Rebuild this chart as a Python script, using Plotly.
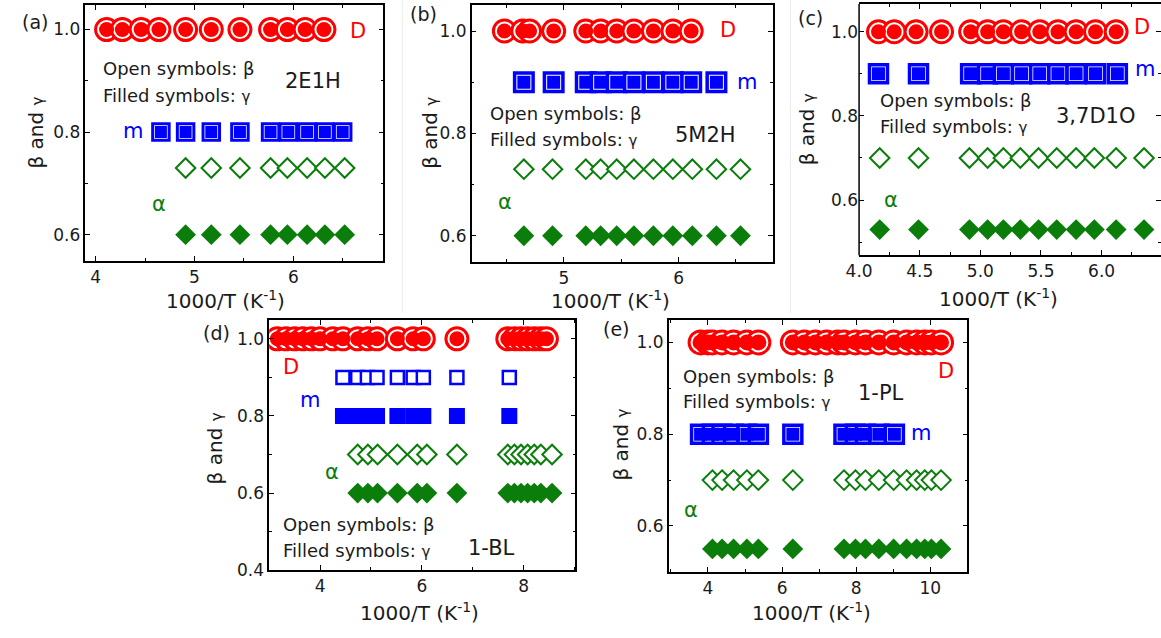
import plotly.graph_objects as go

W, H = 1161, 638

# ---------------- data ----------------
# (a) 2E1H
a_D_x = [4.11, 4.27, 4.46, 4.64, 4.91, 5.17, 5.46, 5.77, 5.94, 6.12, 6.31]
a_D_beta = [1.0, 1.0, 1.0, 1.0, 1.0, 1.0, 1.0, 1.0, 1.0, 1.0, 1.0]
a_D_gamma = [1.0, 1.0, 1.0, 1.0, 1.0, 1.0, 1.0, 1.0, 1.0, 1.0, 1.0]
a_m_x = [4.66, 4.91, 5.17, 5.46, 5.77, 5.95, 6.14, 6.32, 6.50]
a_m_beta = [0.8, 0.8, 0.8, 0.8, 0.8, 0.8, 0.8, 0.8, 0.8]
a_m_gamma = [0.8, 0.8, 0.8, 0.8, 0.8, 0.8, 0.8, 0.8, 0.8]
a_al_x = [4.91, 5.17, 5.46, 5.77, 5.94, 6.14, 6.32, 6.52]
a_al_beta = [0.73, 0.73, 0.73, 0.73, 0.73, 0.73, 0.73, 0.73]
a_al_gamma = [0.6, 0.6, 0.6, 0.6, 0.6, 0.6, 0.6, 0.6]

# (b) 5M2H
b_D_x = [4.48, 4.64, 4.70, 4.91, 5.19, 5.32, 5.46, 5.61, 5.78, 5.95, 6.11]
b_D_beta = [1.0, 1.0, 1.0, 1.0, 1.0, 1.0, 1.0, 1.0, 1.0, 1.0, 1.0]
b_D_gamma = [1.0, 1.0, 1.0, 1.0, 1.0, 1.0, 1.0, 1.0, 1.0, 1.0, 1.0]
b_m_x = [4.65, 4.91, 5.19, 5.32, 5.46, 5.61, 5.78, 5.95, 6.11, 6.33]
b_m_beta = [0.9, 0.9, 0.9, 0.9, 0.9, 0.9, 0.9, 0.9, 0.9, 0.9]
b_m_gamma = [0.9, 0.9, 0.9, 0.9, 0.9, 0.9, 0.9, 0.9, 0.9, 0.9]
b_al_x = [4.65, 4.90, 5.19, 5.32, 5.46, 5.61, 5.78, 5.95, 6.12, 6.33, 6.54]
b_al_beta = [0.73, 0.73, 0.73, 0.73, 0.73, 0.73, 0.73, 0.73, 0.73, 0.73, 0.73]
b_al_gamma = [0.6, 0.6, 0.6, 0.6, 0.6, 0.6, 0.6, 0.6, 0.6, 0.6, 0.6]

# (c) 3,7D1O
c_D_x = [4.16, 4.29, 4.47, 4.68, 4.92, 5.06, 5.19, 5.34, 5.49, 5.64, 5.79, 5.95, 6.12]
c_D_beta = [1.0, 1.0, 1.0, 1.0, 1.0, 1.0, 1.0, 1.0, 1.0, 1.0, 1.0, 1.0, 1.0]
c_D_gamma = [1.0, 1.0, 1.0, 1.0, 1.0, 1.0, 1.0, 1.0, 1.0, 1.0, 1.0, 1.0, 1.0]
c_m_x = [4.16, 4.49, 4.92, 5.06, 5.19, 5.34, 5.49, 5.64, 5.79, 5.95, 6.13]
c_m_beta = [0.9, 0.9, 0.9, 0.9, 0.9, 0.9, 0.9, 0.9, 0.9, 0.9, 0.9]
c_m_gamma = [0.9, 0.9, 0.9, 0.9, 0.9, 0.9, 0.9, 0.9, 0.9, 0.9, 0.9]
c_al_x = [4.17, 4.49, 4.91, 5.06, 5.19, 5.33, 5.48, 5.63, 5.79, 5.94, 6.12, 6.35]
c_al_beta = [0.70, 0.70, 0.70, 0.70, 0.70, 0.70, 0.70, 0.70, 0.70, 0.70, 0.70, 0.70]
c_al_gamma = [0.53, 0.53, 0.53, 0.53, 0.53, 0.53, 0.53, 0.53, 0.53, 0.53, 0.53, 0.53]

# (d) 1-BL
d_D_x = [3.16, 3.33, 3.50, 3.66, 3.83, 4.00, 4.25, 4.45, 4.74, 4.94, 5.12, 5.52, 5.83, 6.03,
         6.69, 7.69, 7.82, 7.95, 8.08, 8.21, 8.34, 8.45]
d_D_beta = [1.0, 1.0, 1.0, 1.0, 1.0, 1.0, 1.0, 1.0, 1.0, 1.0, 1.0, 1.0, 1.0, 1.0,
            1.0, 1.0, 1.0, 1.0, 1.0, 1.0, 1.0, 1.0]
d_D_gamma = [1.0, 1.0, 1.0, 1.0, 1.0, 1.0, 1.0, 1.0, 1.0, 1.0, 1.0, 1.0, 1.0, 1.0,
             1.0, 1.0, 1.0, 1.0, 1.0, 1.0, 1.0, 1.0]
d_m_x = [4.45, 4.74, 4.93, 5.12, 5.52, 5.83, 6.03, 6.69, 7.72]
d_m_beta = [0.9, 0.9, 0.9, 0.9, 0.9, 0.9, 0.9, 0.9, 0.9]
d_m_gamma = [0.8, 0.8, 0.8, 0.8, 0.8, 0.8, 0.8, 0.8, 0.8]
d_al_x = [4.74, 4.94, 5.13, 5.52, 5.91, 6.10, 6.69, 7.69, 7.82, 7.95, 8.08, 8.21, 8.34, 8.56]
d_al_beta = [0.7, 0.7, 0.7, 0.7, 0.7, 0.7, 0.7, 0.7, 0.7, 0.7, 0.7, 0.7, 0.7, 0.7]
d_al_gamma = [0.6, 0.6, 0.6, 0.6, 0.6, 0.6, 0.6, 0.6, 0.6, 0.6, 0.6, 0.6, 0.6, 0.6]

# (e) 1-PL
e_D_x = [3.80, 4.00, 4.12, 4.38, 4.69, 5.05, 5.36, 6.29, 6.60, 6.90, 7.20, 7.50, 7.67, 7.98,
         8.25, 8.61, 9.01, 9.36, 9.63, 9.85, 10.03, 10.29]
e_D_beta = [1.0, 1.0, 1.0, 1.0, 1.0, 1.0, 1.0, 1.0, 1.0, 1.0, 1.0, 1.0, 1.0, 1.0,
            1.0, 1.0, 1.0, 1.0, 1.0, 1.0, 1.0, 1.0]
e_D_gamma = [1.0, 1.0, 1.0, 1.0, 1.0, 1.0, 1.0, 1.0, 1.0, 1.0, 1.0, 1.0, 1.0, 1.0,
             1.0, 1.0, 1.0, 1.0, 1.0, 1.0, 1.0, 1.0]
e_m_x = [3.80, 4.12, 4.38, 4.69, 5.05, 5.36, 6.29, 7.67, 7.98, 8.25, 8.61, 9.03]
e_m_beta = [0.8, 0.8, 0.8, 0.8, 0.8, 0.8, 0.8, 0.8, 0.8, 0.8, 0.8, 0.8]
e_m_gamma = [0.8, 0.8, 0.8, 0.8, 0.8, 0.8, 0.8, 0.8, 0.8, 0.8, 0.8, 0.8]
e_al_x = [4.12, 4.38, 4.69, 5.05, 5.36, 6.29, 7.67, 7.98, 8.25, 8.61, 9.01, 9.36, 9.63, 9.85,
          10.03, 10.29]
e_al_beta = [0.7, 0.7, 0.7, 0.7, 0.7, 0.7, 0.7, 0.7, 0.7, 0.7, 0.7, 0.7, 0.7, 0.7, 0.7, 0.7]
e_al_gamma = [0.55, 0.55, 0.55, 0.55, 0.55, 0.55, 0.55, 0.55, 0.55, 0.55, 0.55, 0.55, 0.55,
              0.55, 0.55, 0.55]

RED = "#ff0000"
BLUE = "#0000ff"
GREEN = "#0b7d0b"
TXT = "#1a1a1a"
FONT = "DejaVu Sans, Arial, sans-serif"

panels = [
    dict(box=(72.3, 374, 5, 265), xr=[3.896, 6.913], yr=[0.549, 1.048],
         xt=[4, 5, 6], xtt=["4", "5", "6"], xminor=0.5, yt=[0.6, 0.8, 1.0],
         ytt=["0.6", "0.8", "1.0"], yminor=0.1),
    dict(box=(463.3, 768.3, 5, 266), xr=[4.195, 6.824], yr=[0.549, 1.051],
         xt=[5, 6], xtt=["5", "6"], xminor=0.5, yt=[0.6, 0.8, 1.0],
         ytt=["0.6", "0.8", "1.0"], yminor=0.1),
    dict(box=(855.4, 1161, 4, 259.3), xr=[4.0, 6.49], yr=[0.469, 1.066],
         xt=[4.0, 4.5, 5.0, 5.5, 6.0], xtt=["4.0", "4.5", "5.0", "5.5", "6.0"], xminor=0.25,
         yt=[0.6, 0.8, 1.0], ytt=["0.6", "0.8", "1.0"], yminor=0.1),
    dict(box=(258.3, 568.3, 325, 579.3), xr=[3.0, 9.02], yr=[0.4, 1.049],
         xt=[4, 6, 8], xtt=["4", "6", "8"], xminor=1, yt=[0.4, 0.6, 0.8, 1.0],
         ytt=["0.4", "0.6", "0.8", "1.0"], yminor=0.1),
    dict(box=(662.7, 965, 325, 581), xr=[2.94, 11.0], yr=[0.5, 1.049],
         xt=[4, 6, 8, 10], xtt=["4", "6", "8", "10"], xminor=1, yt=[0.6, 0.8, 1.0],
         ytt=["0.6", "0.8", "1.0"], yminor=0.1),
]

series = [
    (a_D_x, a_D_beta, a_D_gamma, a_m_x, a_m_beta, a_m_gamma, a_al_x, a_al_beta, a_al_gamma),
    (b_D_x, b_D_beta, b_D_gamma, b_m_x, b_m_beta, b_m_gamma, b_al_x, b_al_beta, b_al_gamma),
    (c_D_x, c_D_beta, c_D_gamma, c_m_x, c_m_beta, c_m_gamma, c_al_x, c_al_beta, c_al_gamma),
    (d_D_x, d_D_beta, d_D_gamma, d_m_x, d_m_beta, d_m_gamma, d_al_x, d_al_beta, d_al_gamma),
    (e_D_x, e_D_beta, e_D_gamma, e_m_x, e_m_beta, e_m_gamma, e_al_x, e_al_beta, e_al_gamma),
]

sq_style = [
    dict(os=16.5, olw=3, fs=12),
    dict(os=18.5, olw=3.5, fs=13),
    dict(os=18, olw=3.5, fs=13),
    dict(os=13, olw=2.5, fs=16),
    dict(os=18, olw=3.5, fs=13),
]

fig = go.Figure()


def px2x(p):
    return p / W


def px2y(p):
    return 1 - p / H


for i, (p, s) in enumerate(zip(panels, series)):
    n = "" if i == 0 else str(i + 1)
    xa, ya = "x" + n, "y" + n
    Dx, Db, Dg, mx, mb, mg, ax_, ab, ag = s
    ss = sq_style[i]
    circ = 22 if i < 4 else 23
    fig.add_trace(go.Scatter(x=Dx, y=Db, mode="markers", xaxis=xa, yaxis=ya,
                             marker=dict(symbol="circle", size=circ, color="white",
                                         line=dict(color=RED, width=3))))
    fig.add_trace(go.Scatter(x=Dx, y=Dg, mode="markers", xaxis=xa, yaxis=ya,
                             marker=dict(symbol="circle", size=circ - 7, color=RED,
                                         line=dict(width=0))))
    fig.add_trace(go.Scatter(x=mx, y=mb, mode="markers", xaxis=xa, yaxis=ya,
                             marker=dict(symbol="square", size=ss["os"], color="white",
                                         line=dict(color=BLUE, width=ss["olw"]))))
    fig.add_trace(go.Scatter(x=mx, y=mg, mode="markers", xaxis=xa, yaxis=ya,
                             marker=dict(symbol="square", size=ss["fs"], color=BLUE,
                                         line=dict(width=0))))
    fig.add_trace(go.Scatter(x=ax_, y=ab, mode="markers", xaxis=xa, yaxis=ya,
                             marker=dict(symbol="diamond", size=15, color="white",
                                         line=dict(color=GREEN, width=2))))
    fig.add_trace(go.Scatter(x=ax_, y=ag, mode="markers", xaxis=xa, yaxis=ya,
                             marker=dict(symbol="diamond", size=16, color=GREEN,
                                         line=dict(width=0))))

    l, r, t, b = p["box"]
    common = dict(linecolor="black", linewidth=1.5, mirror="allticks",
                  ticks="inside", ticklen=5, tickwidth=1.2, tickcolor="black",
                  showgrid=False, zeroline=False,
                  tickfont=dict(family=FONT, size=17, color=TXT))
    fig.layout["xaxis" + n] = dict(
        domain=[px2x(l), min(1.0, px2x(r))], range=p["xr"], anchor=ya, showline=True,
        tickmode="array", tickvals=p["xt"], ticktext=p["xtt"],
        minor=dict(ticks="inside", ticklen=3, dtick=p["xminor"], tick0=0,
                   tickcolor="black", tickwidth=1.2, showgrid=False),
        **common)
    fig.layout["yaxis" + n] = dict(
        domain=[px2y(b), px2y(t)], range=p["yr"], anchor=xa, showline=(i != 2),
        tickmode="array", tickvals=p["yt"], ticktext=p["ytt"],
        minor=dict(ticks="inside", ticklen=3, dtick=p["yminor"], tick0=0,
                   tickcolor="black", tickwidth=1.2, showgrid=False),
        **common)

anns = []


def txt(x, y, s, size=18, color=TXT, xanchor="center", angle=0):
    anns.append(dict(x=px2x(x), y=px2y(y), xref="paper", yref="paper", text=s,
                     showarrow=False, xanchor=xanchor, yanchor="middle", textangle=angle,
                     font=dict(family=FONT, size=size, color=color)))


XT = "1000/T (K<sup>-1</sup>)"
YT = "β and <span style='font-size:15px'>γ</span>"
txt(214, 305, XT, 20)
txt(604, 305, XT, 20)
txt(997, 303, XT, 20)
txt(410, 622, XT, 20)
txt(807, 622, XT, 20)
txt(22, 135, YT, 20, angle=-90)
txt(421, 135, YT, 20, angle=-90)
txt(803, 131, YT, 20, angle=-90)
txt(203, 456, YT, 20, angle=-90)
txt(614, 452, YT, 20, angle=-90)
txt(21, 22, "(a)", 19)
txt(414, 14, "(b)", 19)
txt(806, 18, "(c)", 19)
txt(205, 338, "(d)", 19)
txt(610, 334, "(e)", 19)

for (x0, y1, y2) in [(88, 70, 97), (480, 115, 141.7), (875, 101.7, 128.3),
                     (270, 533.3, 559.3), (675, 382.3, 408.3)]:
    txt(x0, y1, "Open symbols: β", 18, xanchor="left")
    txt(x0, y2, "Filled symbols: <span style='font-size:15px'>γ</span>", 18,
        xanchor="left")

txt(303, 82, "2E1H", 21)
txt(700, 137, "5M2H", 21)
txt(1095, 118, "3,7D1O", 21)
txt(483, 557, "1-BL", 21)
txt(878, 399, "1-PL", 21)

for (x, y) in [(348, 31), (723, 30), (1142, 27), (280, 373), (943, 377)]:
    txt(x, y, "D", 21, RED)
for (x, y) in [(120, 133), (742, 83), (1145, 70), (300, 406), (918, 440)]:
    txt(x, y, "m", 21, BLUE)
for (x, y) in [(147, 207), (497, 205), (888, 203), (322, 480), (685, 518)]:
    txt(x, y, "α", 21, GREEN)

c_left, c_top, c_bot = panels[2]["box"][0], panels[2]["box"][2], panels[2]["box"][3]
shapes = [
    dict(type="line", xref="paper", yref="paper", x0=px2x(393), x1=px2x(393),
         y0=px2y(0), y1=px2y(318), line=dict(color="#ececec", width=1)),
    dict(type="line", xref="paper", yref="paper", x0=px2x(786), x1=px2x(786),
         y0=px2y(0), y1=px2y(318), line=dict(color="#ececec", width=1)),
    dict(type="line", xref="paper", yref="paper", x0=px2x(c_left), x1=px2x(c_left),
         y0=px2y(c_bot), y1=px2y(c_top), line=dict(color="black", width=1.5)),
]

fig.update_layout(width=W, height=H, margin=dict(l=0, r=0, t=0, b=0),
                  paper_bgcolor="white", plot_bgcolor="white", showlegend=False,
                  annotations=anns, shapes=shapes)

fig.write_html("out.html")
